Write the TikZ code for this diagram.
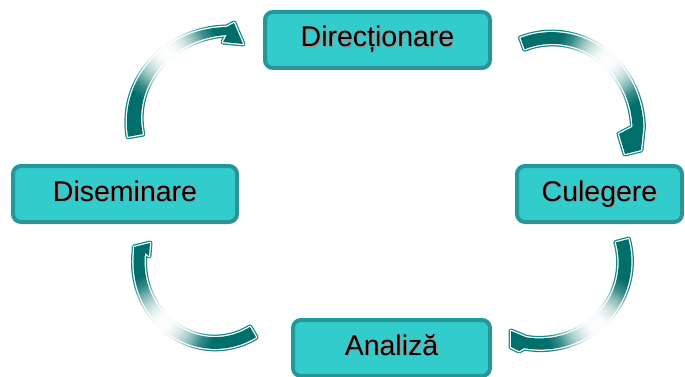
\documentclass[tikz,border=0pt]{standalone}
\usepackage{fontspec}
\setmainfont{Liberation Sans}
\usetikzlibrary{fadings}

\definecolor{boxfill}{RGB}{51,204,204}
\definecolor{boxline}{RGB}{38,150,150}
\definecolor{arrowfill}{RGB}{0,110,106}
\definecolor{arrowline}{RGB}{22,136,132}
\definecolor{shadowgray}{RGB}{150,150,150}

\tikzfading[name=glowfade, inner color=transparent!0, outer color=transparent!100]

\newcommand{\shadtext}[1]{\rlap{\kern1.2pt\raisebox{-1.2pt}{\color{shadowgray}#1}}#1}
% centre x, centre y, radius x, radius y, tail angle, head angle, tail half width, head half width, head
\newcommand{\bandarrow}[9]{%
  \fill[ArrowStyle]
    plot[domain=#5:#6] ({#1+(#3+#7+(#8-#7)*(\x-(#5))/(#6-(#5)))*cos(\x)},{#2+(#4+#7+(#8-#7)*(\x-(#5))/(#6-(#5)))*sin(\x)})
    -- #9 --
    plot[domain=#6:#5] ({#1+(#3-#7-(#8-#7)*(\x-(#5))/(#6-(#5)))*cos(\x)},{#2+(#4-#7-(#8-#7)*(\x-(#5))/(#6-(#5)))*sin(\x)})
    -- cycle;}

\begin{document}
\begin{tikzpicture}[x=1pt, y=-1pt]
  \tikzset{StepBox/.style={draw=boxline, fill=boxfill, line width=4pt, rounded corners=8pt,
      minimum height=56pt, text height=20.5pt, text depth=6.5pt,
      font=\fontsize{28.5}{34}\selectfont}}
  \tikzset{ArrowStyle/.style={fill=arrowfill, samples=40,
      preaction={draw=arrowline, line width=5pt, line join=round},
      preaction={draw=white, line width=2.5pt, line join=round}}}
  \useasboundingbox (0,0) rectangle (685,377);

  \node[StepBox, minimum width=225pt] (dir) at (377.5,40) {\shadtext{Direcționare}};
  \node[StepBox, minimum width=165pt] (cul) at (599.5,194) {\shadtext{Culegere}};
  \node[StepBox, minimum width=197pt] (ana) at (391.5,348) {\shadtext{Analiză}};
  \node[StepBox, minimum width=224pt] (dis) at (125,194) {\shadtext{Diseminare}};

  \bandarrow{230}{120}{96}{89}{170}{268}{7.5}{4}{(234,23) -- (243,44) -- (223,42)}
  \bandarrow{552}{130}{86}{92}{250}{358}{6}{5.5}{(641,150) -- (625,154) -- (619,134)}
  \bandarrow{540}{262}{85}{82}{-15}{100}{6.5}{5.5}{(519,351) -- (511,347) -- (511,331)}
  \bandarrow{215}{262}{76}{81}{60}{187}{6}{5.5}{(134,247) -- (150,243) -- (149,256)}

  \foreach \gx/\gy in {167/53, 607/60, 596/324, 164/322} {
    \fill[white, path fading=glowfade] (\gx,\gy) circle (52pt);
    \fill[white, path fading=glowfade] (\gx,\gy) circle (40pt);
  }
\end{tikzpicture}
\end{document}
